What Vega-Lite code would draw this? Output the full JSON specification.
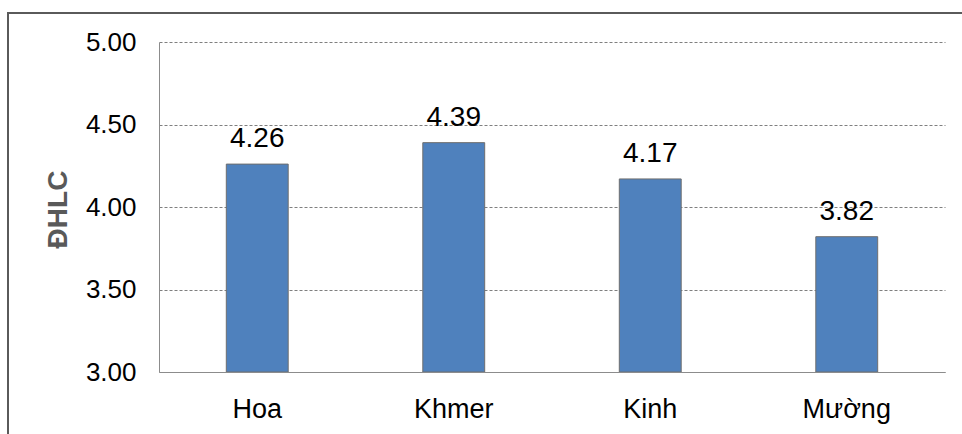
{
  "$schema": "https://vega.github.io/schema/vega-lite/v6.json",
  "autosize": {"type": "none"},
  "padding": {"left": 8, "top": 13, "right": -4, "bottom": -4},
  "width": 958,
  "height": 425,
  "background": "white",
  "config": {
    "view": {"stroke": "#5a5a5a", "strokeWidth": 2},
    "font": "Liberation Sans"
  },
  "data": {
    "values": [
      {"group": "Hoa", "score": 4.26},
      {"group": "Khmer", "score": 4.39},
      {"group": "Kinh", "score": 4.17},
      {"group": "Mường", "score": 3.82}
    ]
  },
  "encoding": {
    "x": {
      "field": "group",
      "type": "nominal",
      "sort": null,
      "scale": {"range": [151, 937], "paddingInner": 0, "paddingOuter": 0},
      "axis": {
        "title": null,
        "offset": -66,
        "ticks": false,
        "labelAngle": 0,
        "labelFont": "Liberation Sans",
        "labelFontSize": 27,
        "labelColor": "#000000",
        "labelBaseline": "alphabetic",
        "labelPadding": 45,
        "domain": true,
        "domainColor": "#8c8c8c",
        "domainWidth": 1,
        "grid": false,
        "zindex": 2
      }
    },
    "y": {
      "field": "score",
      "type": "quantitative",
      "scale": {"domain": [3, 5], "range": [359, 29], "zero": false, "nice": false},
      "axis": {
        "title": "ĐHLC",
        "titleFont": "Liberation Sans",
        "titleFontSize": 28,
        "titleFontWeight": "bold",
        "titleColor": "#595959",
        "titleAngle": -90,
        "titleAlign": "center",
        "titleBaseline": "middle",
        "titleX": -101,
        "titleY": 196,
        "offset": -151,
        "values": [3, 3.5, 4, 4.5, 5],
        "format": ".2f",
        "ticks": false,
        "labelFont": "Liberation Sans",
        "labelFontSize": 26,
        "labelColor": "#000000",
        "labelPadding": 23,
        "domainColor": "#8c8c8c",
        "domainWidth": 1,
        "grid": true,
        "gridColor": "#7f7f7f",
        "gridDash": [3, 2],
        "gridWidth": 1
      }
    }
  },
  "layer": [
    {
      "mark": {
        "type": "bar",
        "width": {"band": 0.315},
        "fill": "#4f81bd",
        "stroke": "#6e6e6e",
        "strokeWidth": 1
      },
      "encoding": {
        "y2": {"datum": 3}
      }
    },
    {
      "mark": {
        "type": "text",
        "baseline": "alphabetic",
        "align": "center",
        "dy": -17,
        "font": "Liberation Sans",
        "fontSize": 28,
        "color": "#000000"
      },
      "encoding": {
        "text": {"field": "score", "type": "quantitative", "format": ".2f"}
      }
    }
  ]
}
